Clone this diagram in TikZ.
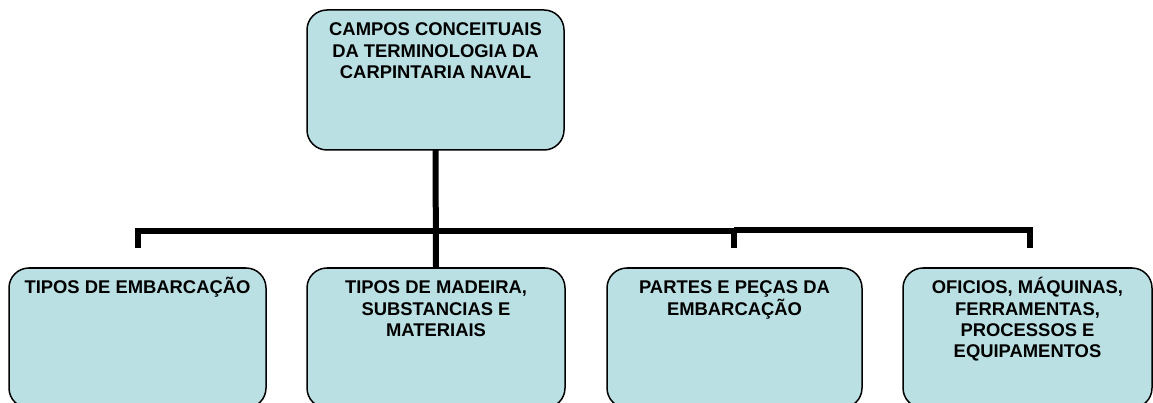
\documentclass[tikz,border=0pt]{standalone}
\usepackage{fontspec}
\setmainfont{Liberation Sans}
\usetikzlibrary{calc}
\definecolor{boxfill}{RGB}{186,224,227}
\newcommand{\boxtext}[1]{\begin{tabular}[t]{@{}c@{}}#1\end{tabular}}
\begin{document}
\begin{tikzpicture}[x=1pt,y=-1pt,
  box/.style={draw=black, line width=1.5pt, fill=boxfill, rounded corners=20pt,
    inner sep=0pt, outer sep=0pt, minimum height=140pt},
  lbl/.style={font=\fontsize{18.4}{21.2}\selectfont\bfseries, inner sep=0pt, anchor=base},
  conn/.style={draw=black, line width=6pt, line cap=butt, line join=miter}]
\useasboundingbox (0,0) rectangle (1153,403);
% boxes
\node[box, minimum width=257pt] (top) at (435.5,80) {};
\node[box, minimum width=257pt] (b1) at (137.5,338) {};
\node[box, minimum width=258pt] (b2) at (436,338) {};
\node[box, minimum width=255pt] (b3) at (734.5,338) {};
\node[box, minimum width=249pt] (b4) at (1027.5,338) {};
% labels
\node[lbl] (ttop) at ($(top.north)+(0,26)$) {\boxtext{CAMPOS CONCEITUAIS\\DA TERMINOLOGIA DA\\CARPINTARIA NAVAL}};
\node[lbl] (t1) at ($(b1.north)+(0,26)$) {\boxtext{TIPOS DE EMBARCAÇÃO}};
\node[lbl] (t2) at ($(b2.north)+(0,26)$) {\boxtext{TIPOS DE MADEIRA,\\SUBSTANCIAS E\\MATERIAIS}};
\node[lbl] (t3) at ($(b3.north)+(0,26)$) {\boxtext{PARTES E PEÇAS DA\\\smash{EMBARCAÇÃO}}};
\node[lbl] (t4) at ($(b4.north)+(0,26)$) {\boxtext{OFICIOS, MÁQUINAS,\\FERRAMENTAS,\\PROCESSOS E\\EQUIPAMENTOS}};
% connectors
\coordinate (hyA) at (0,231.5);
\coordinate (hyB) at (0,230);
\coordinate (l1) at ($(b1.north)+(0,-20)$);
\coordinate (l3) at (734,248);
\coordinate (l4) at (1030,248);
\draw[conn] (top.south) -- (b2.north);
\draw[conn] (l1) -- (l1 |- hyA) -- (l3 |- hyA) -- (l3);
\draw[conn] (l3 |- hyB) -- (l4 |- hyB) -- (l4);
\end{tikzpicture}
\end{document}
